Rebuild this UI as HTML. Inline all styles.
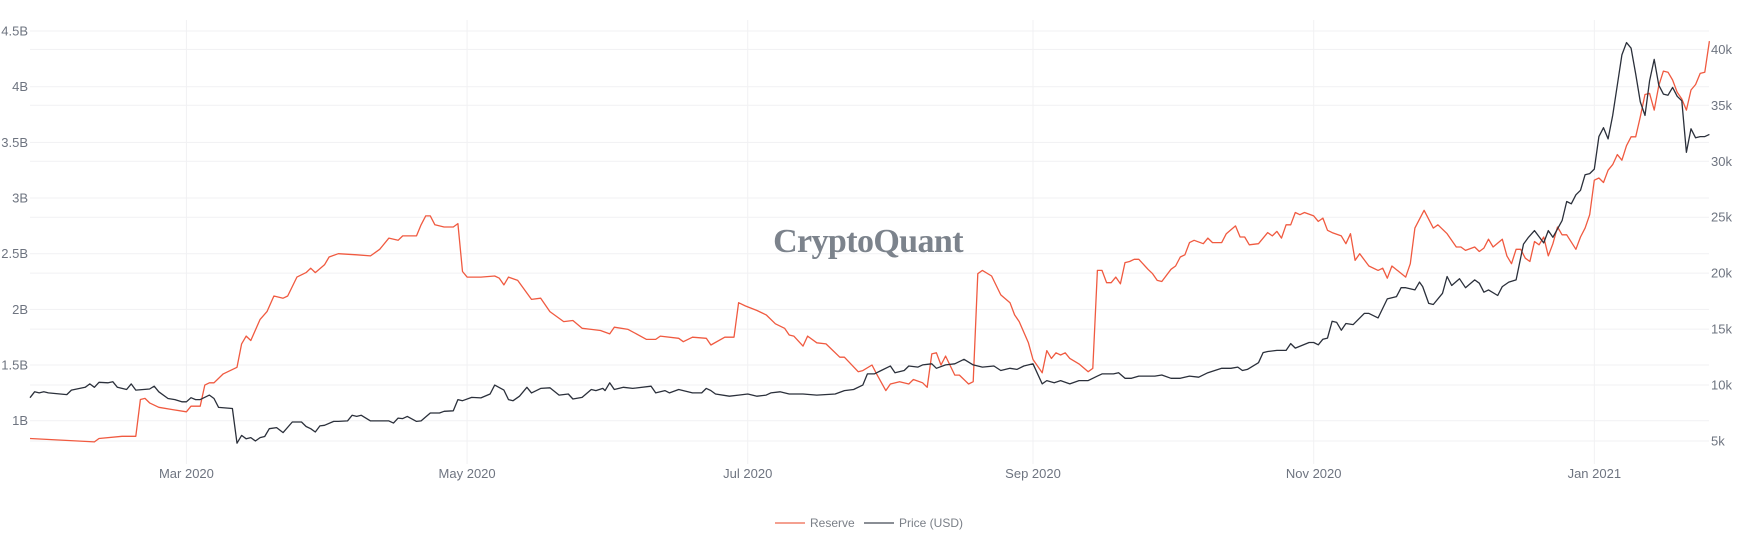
<!DOCTYPE html>
<html><head><meta charset="utf-8"><style>
html,body{margin:0;padding:0;background:#fff;width:1739px;height:539px;overflow:hidden}
svg text{font-family:"Liberation Sans",sans-serif}
</style></head><body>
<svg id="chart" width="1739" height="539" viewBox="0 0 1739 539" xmlns="http://www.w3.org/2000/svg">
<g id="grid"></g>
<text x="868" y="252" text-anchor="middle" style="font-family:'Liberation Serif',serif;font-weight:bold;font-size:34px;fill:#7c838c;letter-spacing:-0.6px">CryptoQuant</text>
<g id="series"></g>
<g id="axes"></g>
<g>
<g>
<line x1="775" y1="523" x2="805" y2="523" stroke="#f4a090" stroke-width="2"/>
<text x="810" y="527" font-size="12" fill="#7a7f87">Reserve</text></g>
<g>
<line x1="864" y1="523" x2="894" y2="523" stroke="#8a8e95" stroke-width="2"/>
<text x="899" y="527" font-size="12" fill="#7a7f87">Price (USD)</text></g>
</g>
</svg>
<script>
const reserveDays=[0,14,15,20,23,24,25,26,28,31,34,35,37,38,39,40,42,45,46,47,48,50,51.5,53,55,56,58,60,61,62,64,65,67,71,74,76,78,80,81,84,85,86,87,88,90,92,93,94,95,98,101,102,103,104,106,109,111,113,116,118,120,122,124,126,127,130,134,136,137,141,142,144,147,148,151,153,154,155.5,158,160,162,164,165,166,168,169,171,173,176,177,180,181,183,184,186,187,189,191,192,194,195,196,197,198,199,201,202,204,205,206,207,209,211,213,214,215,217,218,220,221,222,223,224,225,226,228,230,231,232,233,234,235,236,237,238,239,240,241,243,244,245,246,248,249,250,251,252,253,255,256,257,259,260,262,263,264,265,267,269,270,271,272,273,274,275,276,277,279,280,281,282,283,285,286,287,288,289,291,293,294,295,296,299,300,301,303,305,306,308,310,311,312,314,315,316,317,318,320,321,322,323,324,325,326,327,328,329,330,331,332,333,334,336,337,338,339,340,341,342,343,344,345,346,347,348,349,350,351,352,353,354,355,356,357,358,359,360,361,362,363,364,365];
const reserveValues=[0.84,0.81,0.84,0.86,0.86,1.19,1.20,1.16,1.12,1.10,1.08,1.13,1.13,1.32,1.34,1.34,1.42,1.48,1.69,1.76,1.72,1.91,1.98,2.12,2.10,2.12,2.29,2.33,2.37,2.33,2.40,2.47,2.50,2.49,2.48,2.54,2.64,2.62,2.66,2.66,2.76,2.84,2.84,2.76,2.74,2.74,2.77,2.34,2.29,2.29,2.30,2.28,2.22,2.29,2.26,2.09,2.10,1.98,1.89,1.90,1.83,1.82,1.81,1.78,1.84,1.82,1.73,1.73,1.76,1.74,1.71,1.75,1.74,1.68,1.75,1.75,2.06,2.03,1.99,1.95,1.87,1.83,1.77,1.76,1.67,1.76,1.70,1.69,1.57,1.57,1.44,1.45,1.50,1.42,1.27,1.33,1.35,1.33,1.37,1.34,1.30,1.60,1.61,1.50,1.58,1.41,1.41,1.33,1.35,2.32,2.35,2.30,2.13,2.06,1.95,1.89,1.70,1.55,1.43,1.63,1.56,1.61,1.59,1.61,1.56,1.51,1.44,1.47,2.35,2.35,2.24,2.24,2.29,2.23,2.42,2.43,2.45,2.45,2.36,2.32,2.26,2.25,2.36,2.39,2.47,2.49,2.60,2.62,2.59,2.64,2.60,2.60,2.68,2.75,2.65,2.65,2.58,2.59,2.69,2.66,2.70,2.64,2.76,2.76,2.87,2.85,2.87,2.84,2.79,2.82,2.71,2.69,2.66,2.59,2.68,2.44,2.50,2.39,2.35,2.37,2.28,2.39,2.29,2.41,2.73,2.89,2.73,2.76,2.68,2.56,2.56,2.53,2.56,2.52,2.55,2.63,2.56,2.63,2.48,2.41,2.54,2.54,2.46,2.43,2.61,2.58,2.65,2.48,2.59,2.74,2.67,2.67,2.54,2.65,2.73,2.85,3.16,3.18,3.14,3.25,3.30,3.39,3.34,3.47,3.55,3.55,3.73,3.93,3.94,3.79,4.01,4.14,4.13,4.06,3.95,3.89,3.79,3.97,4.02,4.12,4.13,4.41];
const priceDays=[0,1,2,3,4,8,9,12,13,14,15,17,18,19,21,22,23,26,27,28,30,31.5,33,34,35,36,37,39,40,41,44,45,46,47,48,49,50,51,52,53.6,55,57,59,60,61,62,63,64,66,67,69,70,71,72,74,78,79,80,81,82,84,85,87,89,90,92,93,94,96,98,100,101,103,104,105,106.4,108,109,111,113,115,117,118,120,122,123,124.5,125,126,127,129,131,135,136,138,139,141,144,146,147,148,149,152,154,156,158,160,161,163,165,168,171,175,177,179,181,182,183.5,185,187,188,190,191,193,194,196,197,199,201,203,205,207,209.5,211,213,214.5,216,218,220,221,222.6,224,226,228,230,231,232,233,235.5,236.6,238,239.4,241,244.5,246,248,250,252,254,256,259,261,262.5,263.5,264.6,267,268,269,271,273,274,275,278,279,280,281,282,283,284,285,286,287.6,290,291,293,295,297,298,299,301,302,302.7,304,305,307,308,309,310.7,312,314,315,316,317,319,320,321.4,323,324.6,325.7,327,329,330,331,333,334,335,336,337,338,339,340,341,342,343,344,345,346,347,348,349,350,351,352,353,354,355,356,357,358,359,360,361,362,363,364,365];
const priceValues=[8.87,9.4,9.3,9.4,9.3,9.15,9.55,9.8,10.1,9.8,10.25,10.2,10.3,9.8,9.6,10.1,9.55,9.65,9.9,9.4,8.8,8.7,8.5,8.5,8.87,8.7,8.7,9.1,8.8,8.0,7.9,4.8,5.5,5.2,5.3,5.0,5.3,5.4,6.1,6.2,5.75,6.7,6.7,6.3,6.1,5.8,6.35,6.4,6.75,6.75,6.8,7.3,7.2,7.3,6.8,6.8,6.6,7.05,7.0,7.2,6.75,6.8,7.5,7.5,7.65,7.7,8.7,8.6,8.9,8.85,9.2,10.0,9.55,8.7,8.6,9.0,9.8,9.3,9.7,9.75,9.1,9.2,8.75,8.9,9.6,9.5,9.7,9.5,10.2,9.6,9.8,9.7,9.9,9.3,9.5,9.3,9.6,9.3,9.3,9.7,9.5,9.2,9.0,9.1,9.2,9.0,9.1,9.3,9.4,9.2,9.2,9.1,9.2,9.5,9.6,10.0,11.0,11.0,11.3,11.7,11.1,11.3,11.7,11.6,11.8,11.9,11.5,11.8,11.9,12.3,11.8,11.6,11.7,11.3,11.5,11.4,11.7,11.9,10.1,10.4,10.2,10.4,10.1,10.4,10.4,10.6,10.8,11.0,11.0,11.1,10.6,10.6,10.8,10.8,10.9,10.6,10.6,10.8,10.7,11.1,11.5,11.5,11.6,11.3,11.4,12.0,12.9,13.0,13.1,13.1,13.7,13.3,13.8,13.8,13.6,14.1,14.2,15.7,15.6,14.9,15.5,15.4,16.4,16.4,16.0,17.7,17.9,18.7,18.7,18.5,19.2,18.8,17.3,17.2,18.2,19.7,18.9,19.5,18.7,19.4,19.1,18.3,18.5,18.0,18.8,19.2,19.4,22.6,23.2,23.8,22.7,23.8,23.2,24.7,26.4,26.2,27.0,27.4,28.8,28.9,29.3,32.2,33.0,32.0,34.1,36.8,39.5,40.6,40.1,37.8,35.3,34.1,37.2,39.1,36.8,36.0,35.9,36.6,35.8,35.4,30.8,32.9,32.1,32.2,32.2,32.4];
const leftTicks=[1,1.5,2,2.5,3,3.5,4,4.5];
const leftTickLabels=["1B","1.5B","2B","2.5B","3B","3.5B","4B","4.5B"];
const rightTicks=[5,10,15,20,25,30,35,40];
const rightTickLabels=["5k","10k","15k","20k","25k","30k","35k","40k"];
const xTickDays=[34,95,156,218,279,340];
const xTickLabels=["Mar 2020","May 2020","Jul 2020","Sep 2020","Nov 2020","Jan 2021"];

const NS="http://www.w3.org/2000/svg";
function xS(d){return 30+d*4.601;}
function yL(v){return 420.7-(v-1)*111.33;}
function yR(p){return 441-(p-5)*11.19;}
function mk(tag,parent,attrs){const e=document.createElementNS(NS,tag);for(const k in attrs)e.setAttribute(k,attrs[k]);parent.appendChild(e);return e;}
const grid=document.getElementById('grid'),axes=document.getElementById('axes'),series=document.getElementById('series');
leftTicks.forEach((v,i)=>{
  const l=mk('line',grid,{x1:30,x2:1709,y1:yL(v),y2:yL(v),stroke:'#f1f1f3','stroke-width':1});
  
  
  const t=mk('text',axes,{x:28,y:yL(v)+4.5,'text-anchor':'end','font-size':13,fill:'#6e7480'});
  t.textContent=leftTickLabels[i];
  
  
});
rightTicks.forEach((v,i)=>{
  const l=mk('line',grid,{x1:30,x2:1709,y1:yR(v),y2:yR(v),stroke:'#f1f1f3','stroke-width':1});
  
  
  const t=mk('text',axes,{x:1711,y:yR(v)+4.5,'font-size':13,fill:'#6e7480'});
  t.textContent=rightTickLabels[i];
  
  
});
xTickDays.forEach((d,i)=>{
  const l=mk('line',grid,{x1:xS(d),x2:xS(d),y1:20,y2:464,stroke:'#f1f1f3','stroke-width':1});
  
  
  const t=mk('text',axes,{x:xS(d),y:478,'text-anchor':'middle','font-size':13,fill:'#6e7480'});
  t.textContent=xTickLabels[i];
  
  
});
function path(days,vals,yf){return days.map((d,i)=>(i?'L':'M')+xS(d).toFixed(1)+','+yf(vals[i]).toFixed(1)).join('');}
const rp=mk('path',series,{d:path(reserveDays,reserveValues,yL),fill:'none',stroke:'#f05a40','stroke-width':1.3,'stroke-linejoin':'round'});


const pp=mk('path',series,{d:path(priceDays,priceValues,yR),fill:'none',stroke:'#2b303b','stroke-width':1.3,'stroke-linejoin':'round'});


</script>
</body></html>
